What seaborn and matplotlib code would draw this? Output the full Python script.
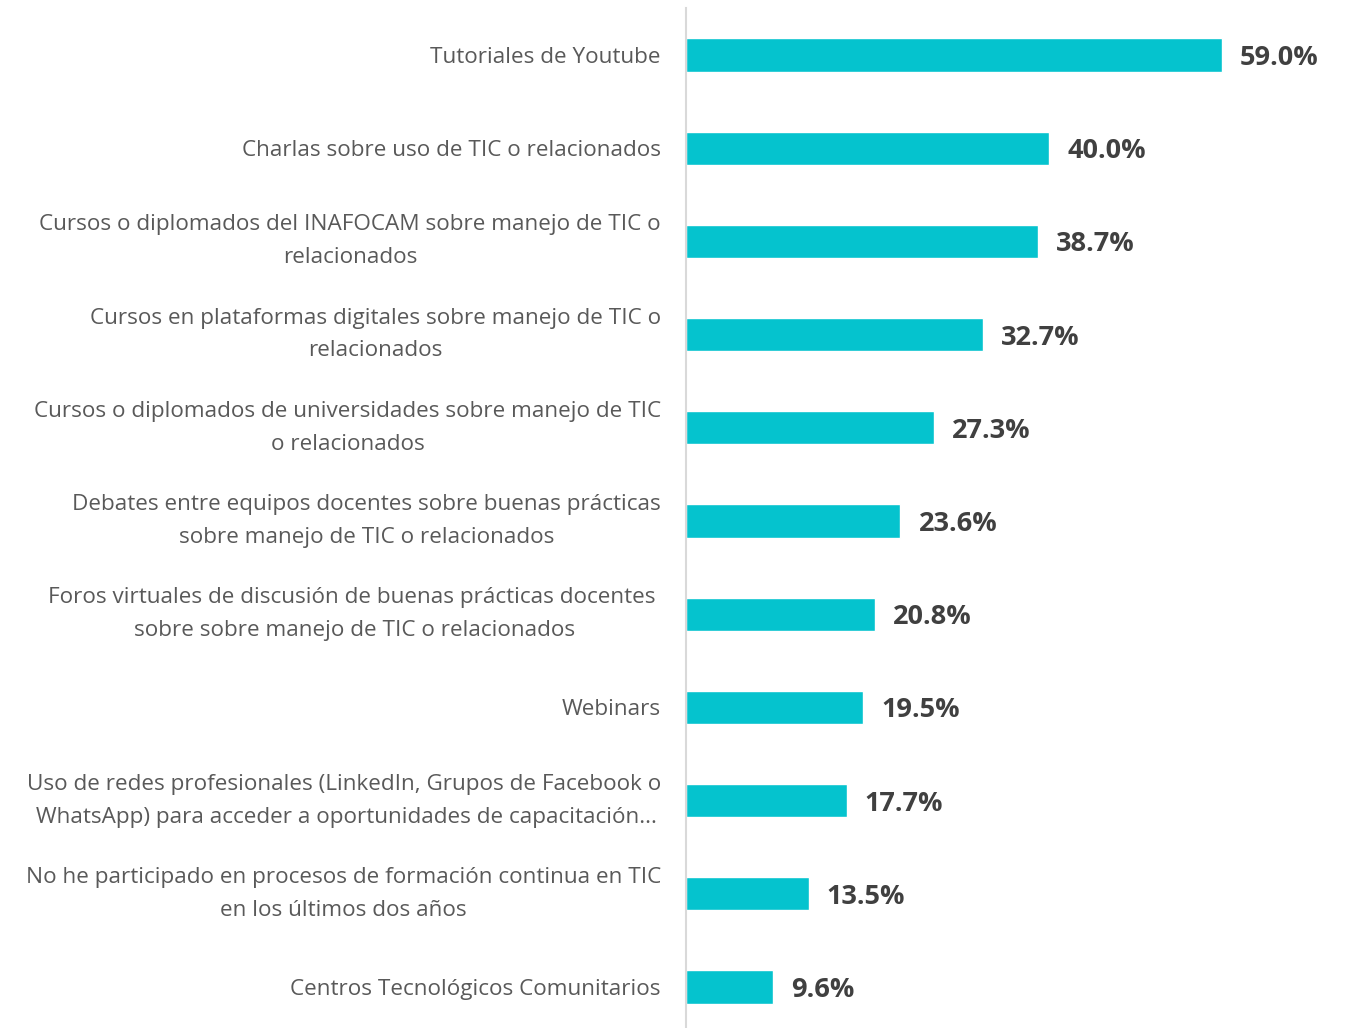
import matplotlib
matplotlib.use('Agg')
import matplotlib.pyplot as plt
import seaborn as sns
import pandas as pd

# Datos del gráfico
categorias = [
    "Tutoriales de Youtube",
    "Charlas sobre uso de TIC o relacionados",
    "Cursos o diplomados del INAFOCAM sobre manejo de TIC o\nrelacionados",
    "Cursos en plataformas digitales sobre manejo de TIC o\nrelacionados",
    "Cursos o diplomados de universidades sobre manejo de TIC\no relacionados",
    "Debates entre equipos docentes sobre buenas prácticas\nsobre manejo de TIC o relacionados",
    "Foros virtuales de discusión de buenas prácticas docentes \nsobre sobre manejo de TIC o relacionados",
    "Webinars",
    "Uso de redes profesionales (LinkedIn, Grupos de Facebook o\n WhatsApp) para acceder a oportunidades de capacitación...",
    "No he participado en procesos de formación continua en TIC\nen los últimos dos años",
    "Centros Tecnológicos Comunitarios",
]
porcentajes = [59.0, 40.0, 38.7, 32.7, 27.3, 23.6, 20.8, 19.5, 17.7, 13.5, 9.6]

df = pd.DataFrame({"categoria": categorias, "porcentaje": porcentajes})

sns.set_style("white")
plt.rcParams['font.family'] = ['Open Sans', 'DejaVu Sans']

fig = plt.figure(figsize=(13.45, 10.28), dpi=100)
ax = fig.add_axes([686 / 1345, 0.0, (1335 - 686) / 1345, 1020 / 1028])

sns.barplot(data=df, x="porcentaje", y="categoria", color="#05C3CE",
            width=0.355, saturation=1, ax=ax)

ax.set_xlim(0, 649 / 9.085)
ax.set_ylim(10.44, -0.504)

# Etiquetas de valor
etiquetas = ax.bar_label(ax.containers[0], labels=[f"{v:.1f}%" for v in porcentajes],
                         padding=13, fontsize=19.5, fontweight='bold', color="#404040")
for t in etiquetas:
    t.set_va('center_baseline')

ax.set_xlabel("")
ax.set_ylabel("")
ax.set_xticks([])
ax.tick_params(axis='y', length=0, pad=18, labelsize=16.2, labelcolor="#595959")
for lbl in ax.get_yticklabels():
    lbl.set_multialignment('center')
    lbl.set_linespacing(1.74)
    if "\n" in lbl.get_text():
        lbl.set_va('center')
    else:
        lbl.set_va('center_baseline')

for s in ["top", "right", "bottom"]:
    ax.spines[s].set_visible(False)
ax.spines["left"].set_color("#D9D9D9")
ax.spines["left"].set_linewidth(1.5)

fig.savefig("out.png", dpi=100)
